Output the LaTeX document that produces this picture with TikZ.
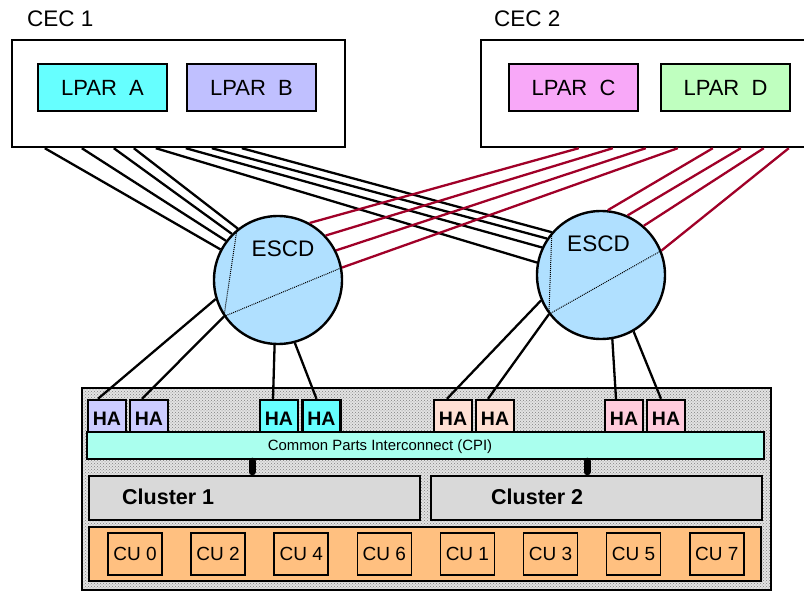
\documentclass[tikz,border=0pt]{standalone}
\usepackage{fontspec}
\setmainfont{Liberation Sans}
\usetikzlibrary{patterns}
\definecolor{lparA}{HTML}{66FFFF}
\definecolor{lparB}{HTML}{C0C0FF}
\definecolor{lparC}{HTML}{F8A8F8}
\definecolor{lparD}{HTML}{BFFFBF}
\definecolor{escdblue}{HTML}{B0E0FF}
\definecolor{haB}{HTML}{CCCCFF}
\definecolor{haA}{HTML}{66FFFF}
\definecolor{haC}{HTML}{FFE0D4}
\definecolor{haD}{HTML}{FFCCDD}
\definecolor{cpigreen}{HTML}{AAFFEE}
\definecolor{clgray}{HTML}{D9D9D9}
\definecolor{cuorange}{HTML}{FFC080}
\definecolor{redline}{HTML}{A00028}

\begin{document}
\begin{tikzpicture}[x=1pt,y=-1pt,
  box/.style={draw,line width=2.4pt,inner sep=0pt},
  lpar/.style={box,minimum width=129pt,minimum height=47pt,font=\fontsize{22}{26}\selectfont},
  escd/.style={circle,draw,line width=2.4pt,fill=escdblue,minimum size=128pt,inner sep=0pt},
  ha/.style={box,minimum width=38pt,minimum height=32pt,text height=19pt,font=\bfseries\fontsize{19.5}{21}\selectfont},
  cu/.style={draw,line width=1.6pt,fill=cuorange,minimum width=54pt,minimum height=42pt,inner sep=0pt,font=\fontsize{19}{21}\selectfont},
  big/.style={inner sep=0pt,font=\fontsize{22.5}{26}\selectfont},
  wire/.style={line width=2.3pt},
  redwire/.style={line width=2.3pt,draw=redline},
  inner/.style={densely dotted,line width=1pt},
  busbar/.style={line width=7pt,line cap=round,shorten <=3pt,shorten >=1pt}
]
\useasboundingbox (0,0) rectangle (804,591);

\node[big,anchor=west] (cec1lbl) at (27,19) {CEC 1};
\node[big,anchor=west] (cec2lbl) at (494,19) {CEC 2};
\node[box,minimum width=333pt,minimum height=107pt] (cec1) at (178.5,93.5) {};
\node[box,minimum width=329pt,minimum height=107pt] (cec2) at (645.5,93.5) {};
\node[lpar,fill=lparA] (lparA) at (102.5,87.5) {LPAR~~A};
\node[lpar,fill=lparB] (lparB) at (251.5,87.5) {LPAR~~B};
\node[lpar,fill=lparC] (lparC) at (573.5,87.5) {LPAR~~C};
\node[lpar,fill=lparD] (lparD) at (725.5,87.5) {LPAR~~D};

\node[draw,line width=1.6pt,preaction={fill=gray!22},pattern=crosshatch dots,pattern color=black!50,minimum width=689pt,minimum height=202pt] (ess) at (426.5,489) {};
\node[box,fill=cpigreen,minimum width=677pt,minimum height=27pt] (cpi) at (425.5,445.5) {};
\node[inner sep=0pt,font=\fontsize{14.9}{17}\selectfont] (cpilbl) at (380,447) {Common Parts Interconnect (CPI)};
\node[box,fill=clgray,minimum width=331pt,minimum height=44pt] (cl1) at (254.5,498) {};
\node[box,fill=clgray,minimum width=331pt,minimum height=44pt] (cl2) at (596.5,498) {};
\node[inner sep=0pt,anchor=west,font=\bfseries\fontsize{21.5}{24}\selectfont] (cl1lbl) at (122,497) {Cluster 1};
\node[inner sep=0pt,anchor=west,font=\bfseries\fontsize{21.5}{24}\selectfont] (cl2lbl) at (491,497) {Cluster 2};
\draw[busbar] ([xshift=-2.5pt]cl1.north) -- ([xshift=-2.5pt]cl1.north |- cpi.south);
\draw[busbar] ([xshift=-9.5pt]cl2.north) -- ([xshift=-9.5pt]cl2.north |- cpi.south);

\node[draw,line width=1.6pt,fill=cuorange,minimum width=672pt,minimum height=54pt] (cubar) at (425,554) {};
\foreach \i/\n in {0/0,1/2,2/4,3/6,4/1,5/3,6/5,7/7}
  \node[cu] (cu\n) at (135+83.1*\i,554) {CU \n};

\node[ha,fill=haB] (ha1) at (107,416) {HA};
\node[ha,fill=haB] (ha2) at (149,416) {HA};
\node[ha,fill=haA] (ha3) at (279,416) {HA};
\node[ha,fill=haA] (ha4) at (321.5,416) {HA};
\node[ha,fill=haC] (ha5) at (453,416) {HA};
\node[ha,fill=haC] (ha6) at (495,416) {HA};
\node[ha,fill=haD] (ha7) at (624,416) {HA};
\node[ha,fill=haD] (ha8) at (666,416) {HA};

\node[escd] (escd1) at (278,280) {};
\node[escd] (escd2) at (601,275) {};
\node[big] (escd1lbl) at (283,248.5) {ESCD};
\node[big] (escd2lbl) at (598.5,243.5) {ESCD};
\draw[inner] (escd1.129) -- (escd1.214) -- (escd1.11);
\draw[inner] (escd2.139) -- (escd2.217) -- (escd2.22);

\foreach \s/\a in {34/152,71/143,103/135,123/128}
  \draw[wire] ([xshift=\s pt]cec1.south west) -- (escd1.\a);
\foreach \s/\a in {145/169,175/155,201/146,231/139}
  \draw[wire] ([xshift=\s pt]cec1.south west) -- (escd2.\a);
\foreach \s/\a in {99/61,133/43,166/27,198/11}
  \draw[redwire] ([xshift=\s pt]cec2.south west) -- (escd1.\a);
\foreach \s/\a in {233/84,261/66,284/49,309/22}
  \draw[redwire] ([xshift=\s pt]cec2.south west) -- (escd2.\a);

\draw[wire] (escd1.197) -- ([xshift=-9pt]ha1.north);
\draw[wire] (escd1.214) -- ([xshift=-7pt]ha2.north);
\draw[wire] (escd1.267) -- ([xshift=-6pt]ha3.north);
\draw[wire] (escd1.285) -- ([xshift=-5pt]ha4.north);
\draw[wire] (escd2.203) -- ([xshift=-6pt]ha5.north);
\draw[wire] (escd2.217) -- ([xshift=-7pt]ha6.north);
\draw[wire] (escd2.280) -- ([xshift=-8pt]ha7.north);
\draw[wire] (escd2.300) -- ([xshift=-5pt]ha8.north);
\end{tikzpicture}
\end{document}
